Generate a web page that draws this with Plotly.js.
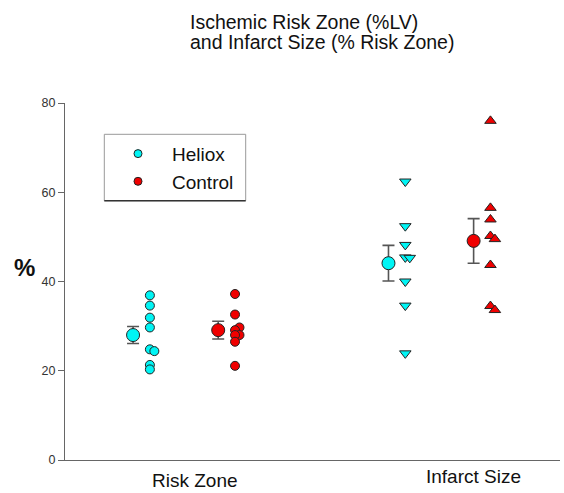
<!DOCTYPE html>
<html>
<head>
<meta charset="utf-8">
<script src="https://cdn.plot.ly/plotly-3.0.1.min.js"></script>
<style>html,body{margin:0;padding:0;background:#fff;}#chart{width:564px;height:493px;}</style>
</head>
<body>
<div id="chart"></div>
<script>
// ---- data ----
const categories = ['Risk Zone', 'Infarct Size'];
const groups = ['Heliox', 'Control'];
const helioxRiskZone = [36.9, 34.6, 31.9, 29.7, 24.8, 24.4, 21.3, 20.3];
const controlRiskZone = [37.2, 32.6, 29.7, 29.1, 28.0, 28.0, 26.5, 21.1];
const helioxInfarct = [62.4, 52.4, 48.2, 45.4, 45.3, 40.0, 34.6, 23.9];
const controlInfarct = [76.0, 56.5, 53.9, 50.2, 49.5, 43.7, 34.5, 33.6];
const helioxMean = [28.0, 44.1];
const helioxSE = [1.9, 4.0];
const controlMean = [29.1, 49.1];
const controlSE = [2.0, 5.0];
const yTicks = [0, 20, 40, 60, 80];
const titleLines = ['Ischemic Risk Zone (%LV)', 'and Infarct Size (% Risk Zone)'];
const yTitle = '%';

// ---- styles / positions ----
const FONT = 'Liberation Sans, Arial, sans-serif';
const CYAN = '#00f5f5', RED = '#f00000', EDGE = '#222';
const catCenter = [2.575, 7.735];
const groupOffset = [-0.86, 0.86];
const meanOffset = -0.34;
const jitterStep = 0.09;
const jitter = {
  hr: [0,0,0,0,0,1,0,0],
  cr: [0,0,1,0,1,0,0,0],
  hi: [0,0,0,0,1,0,0,0],
  ci: [0,0,0,0,1,0,0,1]
};
const labelX = [2.63, 8.26];
const labelShift = [-9, -5];
const titleY = [1.2277, 1.1717];

function xs(cat, grp, vals, jit) {
  return vals.map((v, i) => catCenter[cat] + groupOffset[grp] + jit[i] * jitterStep);
}

const ptMarker = (color, symbol, size) => ({color: color, size: size, symbol: symbol, line: {color: EDGE, width: 1}});

const traces = [
  {x: xs(0,0,helioxRiskZone,jitter.hr), y: helioxRiskZone, mode: 'markers', marker: ptMarker(CYAN,'circle',9), showlegend: false},
  {x: xs(0,1,controlRiskZone,jitter.cr), y: controlRiskZone, mode: 'markers', marker: ptMarker(RED,'circle',9), showlegend: false},
  {x: xs(1,0,helioxInfarct,jitter.hi), y: helioxInfarct, mode: 'markers', marker: ptMarker(CYAN,'triangle-down',10), showlegend: false},
  {x: xs(1,1,controlInfarct,jitter.ci), y: controlInfarct, mode: 'markers', marker: ptMarker(RED,'triangle-up',10), showlegend: false},
  {x: catCenter.map(c => c + groupOffset[0] + meanOffset), y: helioxMean, mode: 'markers',
   error_y: {type: 'data', array: helioxSE, visible: true, color: '#555', thickness: 1.6, width: 6},
   marker: ptMarker(CYAN,'circle',13), showlegend: false},
  {x: catCenter.map(c => c + groupOffset[1] + meanOffset), y: controlMean, mode: 'markers',
   error_y: {type: 'data', array: controlSE, visible: true, color: '#555', thickness: 1.6, width: 6},
   marker: ptMarker(RED,'circle',13), showlegend: false},
  {x: [null], y: [null], mode: 'markers', name: groups[0], marker: ptMarker(CYAN,'circle',8), showlegend: true},
  {x: [null], y: [null], mode: 'markers', name: groups[1], marker: ptMarker(RED,'circle',8), showlegend: true}
];

const annotations = categories.map((c, i) => ({
  text: c, xref: 'x', yref: 'paper', x: labelX[i], y: 0, yanchor: 'top', xanchor: 'center',
  yshift: labelShift[i], showarrow: false, borderpad: 0, font: {family: FONT, size: 19, color: '#111'}
}));
titleLines.forEach((t, i) => annotations.push({
  text: t, xref: 'paper', yref: 'paper', x: 0.2485, y: titleY[i], xanchor: 'left', yanchor: 'middle',
  showarrow: false, font: {family: FONT, size: 19.5, color: '#111'}
}));
annotations.push({
  text: '<b>' + yTitle + '</b>', xref: 'paper', yref: 'paper', x: -0.0828, y: 0.538,
  xanchor: 'center', yanchor: 'middle', showarrow: false, font: {family: FONT, size: 24, color: '#111'}
});

const layout = {
  width: 564, height: 493,
  margin: {l: 65, r: 4, t: 103, b: 33},
  paper_bgcolor: '#fff', plot_bgcolor: '#fff',
  font: {family: FONT, color: '#222'},
  xaxis: {range: [0, 10], showline: true, linecolor: '#666', linewidth: 1, ticks: '',
          showticklabels: false, showgrid: false, zeroline: false, fixedrange: true},
  yaxis: {range: [0, 80], tickvals: yTicks, ticktext: yTicks.map(String), showline: true, linecolor: '#666',
          linewidth: 1, ticks: 'outside', ticklen: 6, tickcolor: '#666', tickfont: {family: FONT, size: 12.5, color: '#333'},
          showgrid: false, zeroline: false},
  showlegend: true,
  legend: {x: 0.0788, y: 0.911, xanchor: 'left', yanchor: 'top', bgcolor: 'rgba(0,0,0,0)', borderwidth: 0,
           font: {family: FONT, size: 19, color: '#111'}, itemwidth: 58},
  shapes: [
    {type: 'rect', xref: 'paper', yref: 'paper', x0: (104.3-65)/495, x1: (245.7-65)/495,
     y0: (460-200.7)/357, y1: (460-134.3)/357, line: {color: '#999', width: 1}},
    {type: 'line', xref: 'paper', yref: 'paper', x0: (104.3-65)/495, x1: (245.7-65)/495,
     y0: (460-200.7)/357, y1: (460-200.7)/357, line: {color: '#333', width: 1.5}}
  ],
  annotations: annotations
};

Plotly.newPlot('chart', traces, layout, {staticPlot: true, displayModeBar: false});
</script>
</body>
</html>
